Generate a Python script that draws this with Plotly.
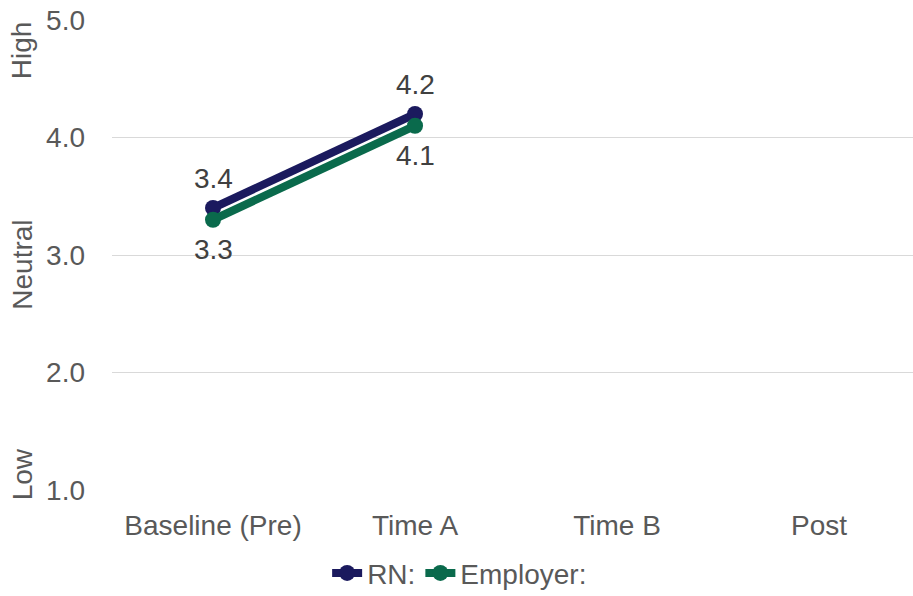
import plotly.graph_objects as go

# Survey periods and mean scores
periods = ["Baseline (Pre)", "Time A", "Time B", "Post"]
rn_scores = [3.4, 4.2, None, None]
employer_scores = [3.3, 4.1, None, None]

# Scale anchors drawn beside the y axis
scale_labels = ["High", "Neutral", "Low"]
scale_positions = [4.745, 2.92, 1.136]

NAVY = "#1b1a5e"
GREEN = "#0a6a4c"
TEXT = "#595959"
LABEL = "#404040"
FONT = "Liberation Sans, Arial, sans-serif"
FS = 28


def add_series(fig, name, values, color, shift):
    fig.add_trace(go.Scatter(
        x=periods, y=values, name=name,
        mode="lines+markers",
        line=dict(color=color, width=8),
        marker=dict(color=color, size=16),
        connectgaps=False,
    ))
    # value labels above (positive shift) or below (negative shift) each point
    for cat, v in zip(periods, values):
        if v is None:
            continue
        fig.add_annotation(
            x=cat, y=v, xref="x", yref="y", text=f"{v:.1f}",
            showarrow=False, yshift=shift, xanchor="center", yanchor="middle",
            font=dict(family=FONT, size=FS, color=LABEL),
        )


fig = go.Figure()
add_series(fig, "RN:", rn_scores, NAVY, 30)
add_series(fig, "Employer:", employer_scores, GREEN, -30)

for lab, pos in zip(scale_labels, scale_positions):
    fig.add_annotation(
        text=lab, x=-0.112, xref="paper", y=pos, yref="y",
        textangle=-90, showarrow=False, xanchor="center", yanchor="middle",
        font=dict(family=FONT, size=FS, color=TEXT),
    )

fig.update_layout(
    width=913, height=596,
    margin=dict(l=112, r=0, t=20, b=106, autoexpand=False),
    paper_bgcolor="white", plot_bgcolor="white",
    font=dict(family=FONT, color=TEXT),
    showlegend=True,
    legend=dict(
        orientation="h", x=0.434, xanchor="center", y=-0.177, yanchor="middle",
        font=dict(family=FONT, size=FS, color=TEXT),
        tracegroupgap=0,
    ),
    xaxis=dict(
        type="category", categoryorder="array", categoryarray=periods,
        range=[-0.5, 3.465],
        showgrid=False, zeroline=False, showline=False,
        ticks="", ticklabelstandoff=16,
        tickfont=dict(family=FONT, size=FS, color=TEXT),
    ),
    yaxis=dict(
        range=[1.0, 5.0], tickvals=[1, 2, 3, 4, 5], tickformat=".1f",
        showgrid=True, gridcolor="#d9d9d9", gridwidth=1,
        zeroline=False, showline=False, ticks="",
        ticklabelstandoff=26,
        tickfont=dict(family=FONT, size=FS, color=TEXT),
    ),
)

fig.write_html("out.html")
